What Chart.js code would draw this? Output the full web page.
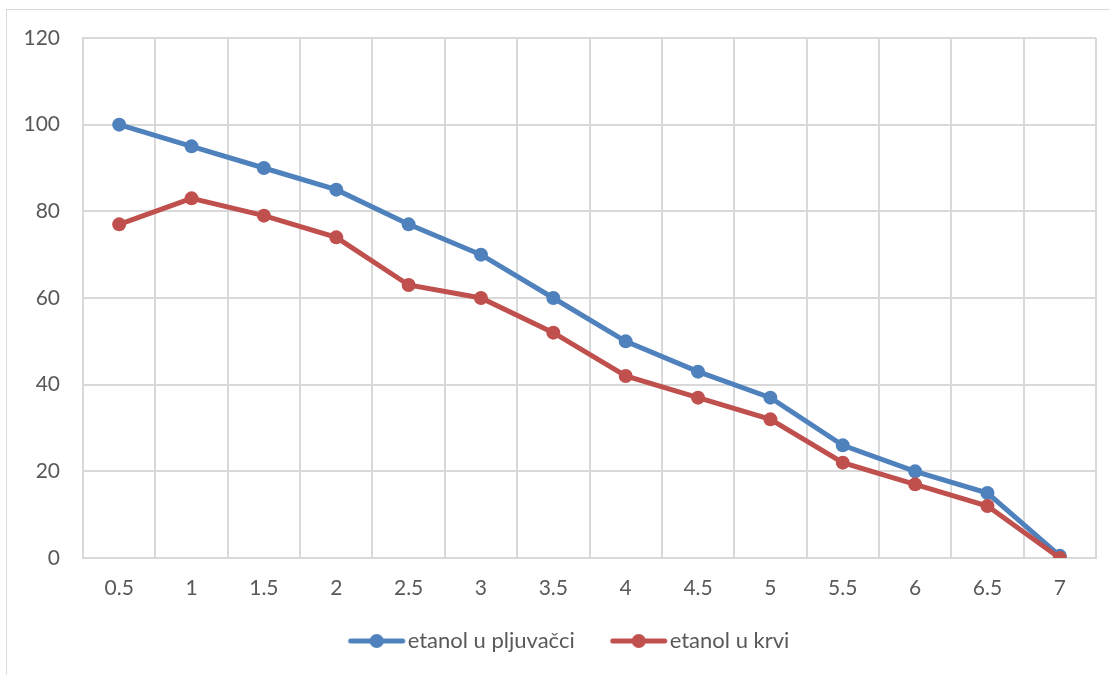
<!DOCTYPE html>
<html>
<head>
<meta charset="utf-8">
<script src="https://cdn.jsdelivr.net/npm/chart.js@4.4.0/dist/chart.umd.min.js"></script>
<style>
  html, body { margin: 0; padding: 0; background: #fff; }
  #wrap { position: relative; width: 1110px; height: 674px; overflow: hidden; }
  #frame { position: absolute; left: 6px; top: 9px; width: 1200px; height: 800px;
           border-left: 1px solid #d9d9d9; border-top: 1px solid #d9d9d9; }
  canvas { position: absolute; left: 0; top: 0; }
</style>
</head>
<body>
<div id="wrap">
  <div id="frame"></div>
  <canvas id="graph" width="1110" height="674"></canvas>
</div>
<script>
// podaci
var kategorije = ["0.5", "1", "1.5", "2", "2.5", "3", "3.5", "4", "4.5", "5", "5.5", "6", "6.5", "7"];
var pljuvacka = [100, 95, 90, 85, 77, 70, 60, 50, 43, 37, 26, 20, 15, 0.5];
var krv = [77, 83, 79, 74, 63, 60, 52, 42, 37, 32, 22, 17, 12, 0];
var yTicks = [0, 20, 40, 60, 80, 100, 120];

var plava = "#4f81bd";
var crvena = "#c0504d";
var siva = "#d9d9d9";
var tekst = "#595959";
var font = "Lato";

// ikonica za legendu: linija s kruzicem u sredini
// (platno je sire da bi linija pocinjala na lijevom rubu stavke)
function ikona(boja) {
    var c = document.createElement("canvas");
    c.width = 112; c.height = 16;
    var g = c.getContext("2d");
    g.strokeStyle = boja;
    g.lineWidth = 5;
    g.lineCap = "round";
    g.beginPath();
    g.moveTo(34, 8); g.lineTo(86, 8);
    g.stroke();
    g.fillStyle = boja;
    g.beginPath();
    g.arc(60, 8, 7, 0, Math.PI * 2);
    g.fill();
    return c;
}

// pomak legende (Excel je ne centrira bas na sredinu)
var pomakLegende = {
    id: "pomakLegende",
    afterLayout: function(ch) {
        var l = ch.legend;
        l.left += 21; l.right += 21;
        l.top -= 12; l.bottom -= 12;
    }
};

Chart.defaults.font.family = font;
Chart.defaults.color = tekst;

var chart = new Chart(document.getElementById("graph").getContext("2d"), {
    type: "line",
    data: {
        labels: kategorije,
        datasets: [
            {
                label: "etanol u pljuvačci",
                data: pljuvacka,
                borderColor: plava,
                backgroundColor: plava,
                borderWidth: 5,
                pointRadius: 7,
                pointHoverRadius: 7,
                pointBorderWidth: 0,
                tension: 0,
                order: 1
            },
            {
                label: "etanol u krvi",
                data: krv,
                borderColor: crvena,
                backgroundColor: crvena,
                borderWidth: 5,
                pointRadius: 7,
                pointHoverRadius: 7,
                pointBorderWidth: 0,
                tension: 0,
                order: 0
            }
        ]
    },
    plugins: [pomakLegende],
    options: {
        responsive: false,
        animation: false,
        layout: { padding: { left: 0, right: 14, top: 38, bottom: 0 } },
        scales: {
            x: {
                offset: true,
                grid: { color: siva, lineWidth: 2, offset: true, drawTicks: false },
                border: { color: siva, width: 2 },
                ticks: { font: { size: 21 }, padding: 18, maxRotation: 0, autoSkip: false },
                afterFit: function(s) { s.height = 48; }
            },
            y: {
                min: 0,
                max: 120,
                afterBuildTicks: function(s) { s.ticks = yTicks.map(function(v) { return { value: v }; }); },
                grid: { color: siva, lineWidth: 2, drawTicks: false },
                border: { color: siva, width: 2 },
                ticks: { font: { size: 21 }, padding: 23 },
                afterFit: function(s) { s.width = 83; }
            }
        },
        plugins: {
            tooltip: { enabled: false },
            legend: {
                position: "bottom",
                labels: {
                    usePointStyle: true,
                    pointStyleWidth: 48,
                    padding: 36,
                    font: { size: 22 },
                    color: tekst,
                    generateLabels: function(ch) {
                        return ch.data.datasets.map(function(d, i) {
                            return {
                                text: d.label,
                                pointStyle: ikona(d.borderColor),
                                fillStyle: d.borderColor,
                                strokeStyle: d.borderColor,
                                lineWidth: 0,
                                datasetIndex: i,
                                hidden: false,
                                fontColor: tekst
                            };
                        });
                    }
                }
            }
        }
    }
});
</script>
</body>
</html>
